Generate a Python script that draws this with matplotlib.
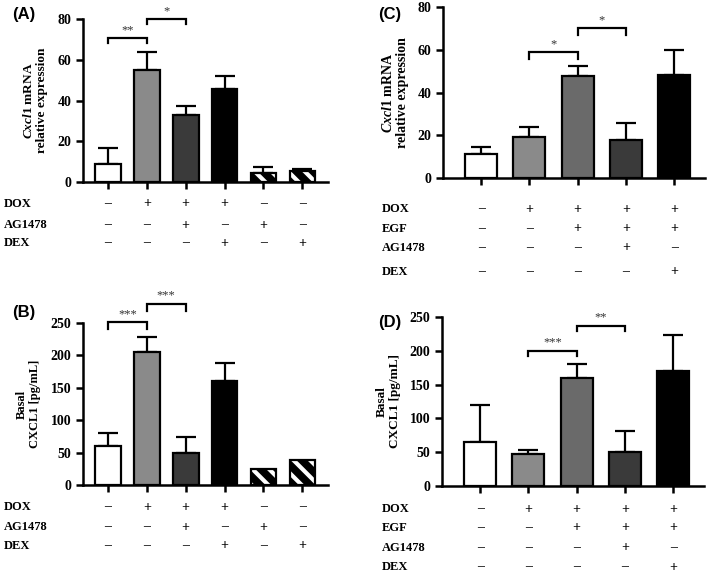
import matplotlib
matplotlib.use('Agg')
import matplotlib.pyplot as plt
import matplotlib.transforms as mtransforms

plt.rcParams['font.family'] = 'Liberation Serif'
plt.rcParams['font.weight'] = 'bold'
plt.rcParams['mathtext.fontset'] = 'custom'
plt.rcParams['mathtext.it'] = 'Liberation Serif:italic:bold'
plt.rcParams['mathtext.rm'] = 'Liberation Serif:bold'
plt.rcParams['hatch.linewidth'] = 3.0

# ---- data ----
a_vals = [9, 55, 33, 45.5, 4.5, 5.5]
a_sem = [7.5, 9, 4.5, 6.5, 3, 1]
a_colors = ['white', '#8a8a8a', '#3a3a3a', 'black', 'hatch', 'hatch']
a_rows = ['DOX', 'AG1478', 'DEX']
a_signs = [['–', '+', '+', '+', '–', '–'],
           ['–', '–', '+', '–', '+', '–'],
           ['–', '–', '–', '+', '–', '+']]
a_sig = [(0, 1, 70.5, 2.5, '**'), (1, 2, 80, 2.5, '*')]

b_vals = [60, 205, 50, 160, 25, 38]
b_sem = [21, 23, 24, 28, 0, 0]
b_sig = [(0, 1, 251, 11, '***'), (1, 2, 280, 11, '***')]

c_vals = [11, 19, 47.5, 18, 48]
c_sem = [3.5, 5, 5, 7.5, 12]
c_colors = ['white', '#8a8a8a', '#6a6a6a', '#3a3a3a', 'black']
c_rows = ['DOX', 'EGF', 'AG1478', 'DEX']
c_signs = [['–', '+', '+', '+', '+'],
           ['–', '–', '+', '+', '+'],
           ['–', '–', '–', '+', '–'],
           ['–', '–', '–', '–', '+']]
c_sig = [(1, 2, 59, 3.5, '*'), (2, 3, 70, 3, '*')]

d_vals = [65, 47, 160, 50, 170]
d_sem = [55, 6, 21, 32, 54]
d_sig = [(1, 2, 200, 8, '***'), (2, 3, 237, 8, '**')]

W, H = 709, 574
fig = plt.figure(figsize=(W / 100, H / 100), dpi=100)


def px_axes(left, top, right, bottom):
    return fig.add_axes([left / W, 1 - bottom / H, (right - left) / W, (bottom - top) / H])


def draw_panel(ax, vals, sem, colors, ymax, yticks, xlim, sig, ylabel, ylabel_size, labelpad):
    x = list(range(len(vals)))
    for xi, v, c in zip(x, vals, colors):
        if c == 'hatch':
            # white stripes on black: hatch takes the edge colour, so outline separately
            ax.bar(xi, v, width=0.66, color='black', edgecolor='white',
                   hatch='\\\\', linewidth=0, zorder=2)
            ax.bar(xi, v, width=0.66, facecolor='none', edgecolor='black',
                   linewidth=1.6, zorder=3)
        else:
            ax.bar(xi, v, width=0.66, color=c, edgecolor='black', linewidth=1.6, zorder=2)
    for xi, v, e in zip(x, vals, sem):
        if e > 0:
            ax.errorbar(xi, v, yerr=[[0], [e]], fmt='none', ecolor='black',
                        elinewidth=1.6, capsize=7, capthick=1.6, zorder=1)
    ax.set_ylim(0, ymax)
    ax.set_xlim(*xlim)
    ax.set_yticks(yticks)
    ax.set_xticks(x)
    ax.set_xticklabels([])
    for s in ['top', 'right']:
        ax.spines[s].set_visible(False)
    for s in ['left', 'bottom']:
        ax.spines[s].set_linewidth(1.8)
    ax.tick_params(axis='both', width=1.8, length=5, labelsize=10)
    for lab in ax.get_yticklabels():
        lab.set_fontweight('bold')
    ax.set_ylabel(ylabel, fontsize=ylabel_size, fontweight='bold', labelpad=labelpad,
                  linespacing=1.1)
    for i, j, y, drop, star in sig:
        ax.plot([i, i, j, j], [y - drop, y, y, y - drop], color='black', lw=1.6,
                clip_on=False, solid_joinstyle='miter')
        ax.text((i + j) / 2, y + ymax * 0.012, star, ha='center', va='bottom',
                fontsize=9, fontweight='normal', color='#333333', clip_on=False)


def draw_table(ax, rows, signs, row_y, label_x):
    trans = mtransforms.blended_transform_factory(ax.transData, fig.transFigure)
    for name, srow, ypx in zip(rows, signs, row_y):
        fig.text(label_x / W, 1 - ypx / H, name, ha='left', va='center',
                 fontsize=9, fontweight='bold')
        for xi, s in enumerate(srow):
            ax.text(xi, 1 - ypx / H, s, transform=trans, ha='center', va='center',
                    fontsize=10, fontweight='bold')


cxcl1_label = '$\\it{Cxcl1}$ mRNA\nrelative expression'
basal_label = 'Basal\nCXCL1 [pg/mL]'

# (A)
ax_a = px_axes(83, 19, 328, 182)
draw_panel(ax_a, a_vals, a_sem, a_colors, 80, [0, 20, 40, 60, 80], (-0.64, 5.66),
           a_sig, cxcl1_label, 9.5, 7)
draw_table(ax_a, a_rows, a_signs, [204, 225, 243], 4)

# (B)
ax_b = px_axes(83, 323, 328, 485)
draw_panel(ax_b, b_vals, b_sem, a_colors, 250, [0, 50, 100, 150, 200, 250], (-0.64, 5.66),
           b_sig, basal_label, 9, 7)
draw_table(ax_b, a_rows, a_signs, [507, 527, 546], 4)

# (C)
ax_c = px_axes(443, 7, 705, 178)
draw_panel(ax_c, c_vals, c_sem, c_colors, 80, [0, 20, 40, 60, 80], (-0.79, 4.64),
           c_sig, cxcl1_label, 10, 6)
draw_table(ax_c, c_rows, c_signs, [209, 229, 248, 272], 382)

# (D)
ax_d = px_axes(442, 317, 704, 486)
draw_panel(ax_d, d_vals, d_sem, c_colors, 250, [0, 50, 100, 150, 200, 250], (-0.79, 4.64),
           d_sig, basal_label, 9.5, 6)
draw_table(ax_d, c_rows, c_signs, [509, 528, 548, 567], 382)

# panel letters
for lab, xp, yp in [('(A)', 12, 14), ('(C)', 378, 14), ('(B)', 12, 313), ('(D)', 378, 322)]:
    fig.text(xp / W, 1 - yp / H, lab, ha='left', va='center', fontsize=12,
             fontweight='bold', family='Liberation Sans')

fig.savefig('out.png', dpi=100)
